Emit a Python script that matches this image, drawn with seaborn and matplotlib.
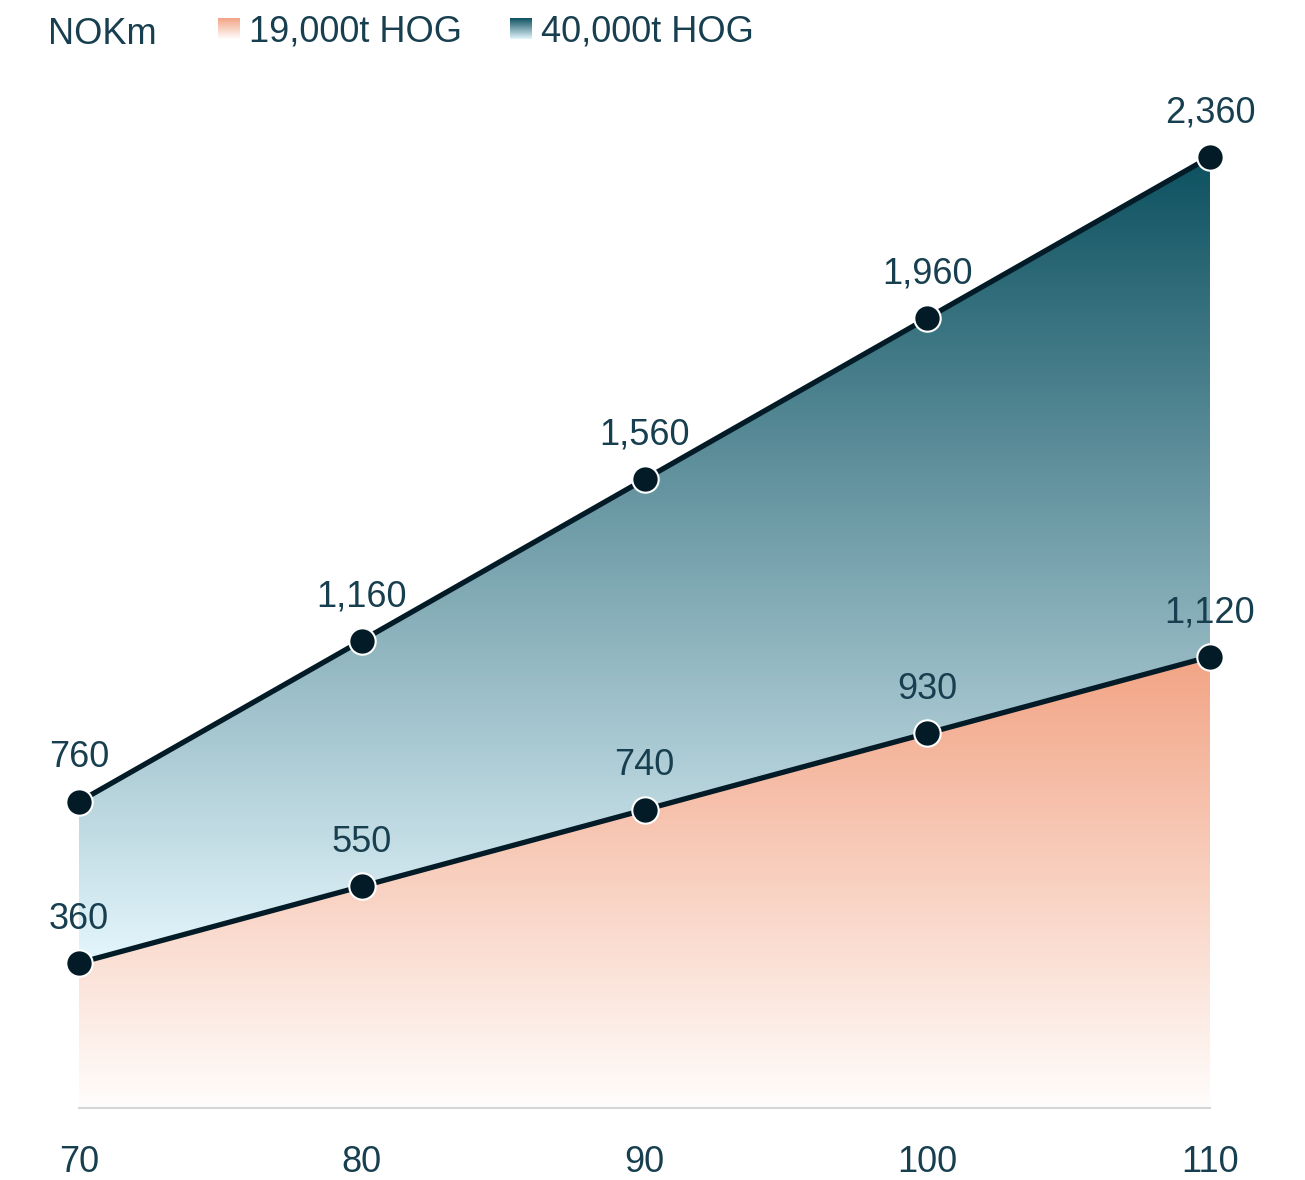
import numpy as np
import matplotlib
matplotlib.use('Agg')
import matplotlib.pyplot as plt
from matplotlib.colors import LinearSegmentedColormap
import seaborn as sns

# data
speeds = [70, 80, 90, 100, 110]
hog_19k = [360, 550, 740, 930, 1120]
hog_40k = [760, 1160, 1560, 1960, 2360]
series_names = ['19,000t HOG', '40,000t HOG']

sns.set_theme(style='white')
plt.rcParams['font.family'] = ['Liberation Sans', 'DejaVu Sans']

txt = '#173f4f'
dark = '#021b26'
teal_cmap = LinearSegmentedColormap.from_list('teal', ['#e4f6fd', '#0d5160'])
orange_cmap = LinearSegmentedColormap.from_list('orange', ['#fffdfc', '#f2a485'])

fig = plt.figure(figsize=(13.05, 11.8), dpi=100)
ax = fig.add_axes([79 / 1305, 72 / 1180, 1131 / 1305, 1027.6 / 1180])
ax.set_xlim(70, 110)
ax.set_ylim(0, 2550)

grad = np.linspace(0, 1, 256).reshape(-1, 1)

# 40k area: gradient between the two lines
poly = ax.fill_between(speeds, hog_19k, hog_40k, facecolor='none', edgecolor='none')
im = ax.imshow(grad, extent=[70, 110, 360, 2360], origin='lower', aspect='auto',
               cmap=teal_cmap, zorder=1)
im.set_clip_path(poly.get_paths()[0], transform=ax.transData)

# 19k area: gradient from zero
poly2 = ax.fill_between(speeds, 0, hog_19k, facecolor='none', edgecolor='none')
im2 = ax.imshow(grad, extent=[70, 110, 0, 1120], origin='lower', aspect='auto',
                cmap=orange_cmap, zorder=1)
im2.set_clip_path(poly2.get_paths()[0], transform=ax.transData)

ax.set_xlim(70, 110)
ax.set_ylim(0, 2550)

for vals in (hog_19k, hog_40k):
    sns.lineplot(x=speeds, y=vals, ax=ax, color=dark, linewidth=3.8, marker='o',
                 markersize=19, markerfacecolor=dark, markeredgecolor='white',
                 markeredgewidth=1.5, clip_on=False, zorder=3)
    for x, v in zip(speeds, vals):
        ax.annotate(f'{v:,}', (x, v), xytext=(0, 19), textcoords='offset points',
                    ha='center', va='bottom', fontsize=26, color=txt, zorder=4,
                    annotation_clip=False)

ax.set_xticks(speeds)
ax.set_xticklabels([str(s) for s in speeds])
ax.set_yticks([])
ax.tick_params(axis='x', length=0, pad=27, labelsize=26, labelcolor=txt)
for s in ['top', 'left', 'right']:
    ax.spines[s].set_visible(False)
ax.spines['bottom'].set_color('#d6d6d6')
ax.spines['bottom'].set_linewidth(1.5)

# legend row
fig.text(48 / 1305, 1 - 44 / 1180, 'NOKm', fontsize=26, color=txt, ha='left', va='baseline')
for x0, name, cm in [(218, series_names[0], orange_cmap), (510, series_names[1], teal_cmap)]:
    sw = fig.add_axes([x0 / 1305, 1 - 39 / 1180, 22 / 1305, 21 / 1180])
    sw.imshow(grad, origin='lower', aspect='auto', cmap=cm)
    sw.axis('off')
    fig.text((x0 + 31) / 1305, 1 - 42 / 1180, name, fontsize=26, color=txt,
             ha='left', va='baseline')

fig.savefig('out.png', dpi=100)
